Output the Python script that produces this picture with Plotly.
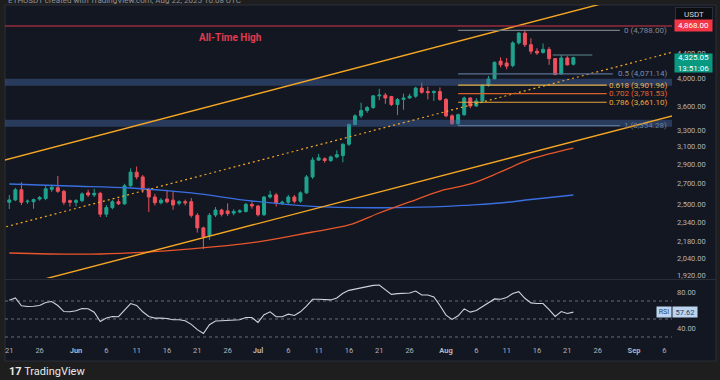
import numpy as np
import pandas as pd
import plotly.graph_objects as go

# ---------------- data ----------------
candle_dates = pd.date_range("2025-05-21", "2025-08-22", freq="D")
opens = [2520, 2542, 2640, 2525, 2525, 2550, 2555, 2645, 2660, 2625,
         2535, 2520, 2535, 2610, 2590, 2605, 2410, 2470, 2525, 2505,
         2680, 2820, 2770, 2640, 2570, 2515, 2550, 2540, 2510, 2525,
         2525, 2400, 2290, 2225, 2403, 2448, 2440, 2420, 2430, 2435,
         2500, 2485, 2405, 2570, 2590, 2510, 2520, 2570, 2530, 2610,
         2770, 2950, 2965, 2945, 2985, 3000, 3130, 3370, 3480, 3550,
         3590, 3750, 3760, 3740, 3630, 3700, 3720, 3745, 3860, 3810,
         3795, 3810, 3700, 3480, 3380, 3495, 3720, 3610, 3680, 3900,
         3995, 4270, 4240, 4200, 4570, 4740, 4540, 4430, 4410, 4460,
         4310, 4070, 4320, 4220]
highs = [2589, 2660, 2715, 2545, 2555, 2580, 2680, 2690, 2780, 2640,
         2545, 2550, 2615, 2640, 2650, 2620, 2495, 2540, 2550, 2700,
         2860, 2880, 2790, 2660, 2600, 2560, 2640, 2620, 2540, 2545,
         2560, 2420, 2300, 2420, 2475, 2460, 2510, 2455, 2455, 2515,
         2525, 2495, 2580, 2630, 2610, 2535, 2590, 2590, 2625, 2790,
         2980, 3020, 2980, 3000, 3060, 3140, 3380, 3500, 3655, 3610,
         3760, 3850, 3790, 3750, 3720, 3780, 3780, 3880, 3940, 3880,
         3830, 3870, 3720, 3500, 3510, 3740, 3730, 3720, 3920, 4040,
         4265, 4330, 4320, 4600, 4760, 4788, 4650, 4480, 4560, 4500,
         4320, 4370, 4350, 4340]
lows = [2457, 2530, 2494, 2505, 2460, 2535, 2540, 2620, 2610, 2495,
        2480, 2480, 2520, 2570, 2570, 2385, 2385, 2455, 2495, 2495,
        2670, 2745, 2610, 2430, 2490, 2500, 2510, 2450, 2490, 2490,
        2380, 2250, 2115, 2190, 2385, 2390, 2395, 2400, 2420, 2425,
        2460, 2390, 2395, 2555, 2480, 2495, 2505, 2510, 2515, 2600,
        2750, 2940, 2920, 2930, 2970, 2926, 3110, 3360, 3450, 3520,
        3570, 3690, 3640, 3610, 3490, 3560, 3710, 3720, 3780, 3700,
        3680, 3680, 3460, 3365, 3354, 3480, 3580, 3600, 3650, 3880,
        3990, 4170, 4140, 4170, 4540, 4500, 4380, 4370, 4390, 4210,
        4050, 4060, 4200, 4200]
closes = [2542, 2640, 2520, 2530, 2545, 2565, 2650, 2665, 2625, 2520,
          2520, 2535, 2600, 2590, 2605, 2410, 2470, 2525, 2505, 2680,
          2820, 2770, 2640, 2570, 2515, 2540, 2525, 2495, 2525, 2515,
          2400, 2290, 2215, 2400, 2448, 2410, 2415, 2435, 2440, 2500,
          2485, 2405, 2570, 2590, 2515, 2520, 2570, 2530, 2610, 2770,
          2950, 2975, 2945, 2985, 3010, 3130, 3370, 3480, 3550, 3590,
          3750, 3760, 3720, 3630, 3700, 3720, 3745, 3860, 3800, 3795,
          3810, 3700, 3480, 3380, 3495, 3720, 3610, 3680, 3900, 3995,
          4250, 4210, 4190, 4570, 4740, 4540, 4430, 4400, 4460, 4310,
          4060, 4320, 4210, 4325.05]

rsi_values = [70.8, 73.4, 64.6, 63.9, 64.2, 65.0, 68.3, 69.4, 65.0, 58.3,
              58.0, 59.1, 61.6, 61.3, 57.6, 47.3, 51.0, 52.8, 52.5, 60.2,
              67.2, 65.0, 58.0, 52.8, 51.0, 51.0, 50.6, 49.2, 49.2, 48.1,
              44.0, 38.2, 33.8, 43.7, 47.7, 48.1, 48.4, 48.8, 49.2, 51.7,
              51.7, 46.2, 54.7, 58.0, 52.5, 52.5, 55.4, 53.9, 58.0, 64.2,
              71.9, 71.9, 71.6, 71.2, 73.4, 78.5, 81.8, 83.3, 84.4, 85.5,
              87.3, 87.7, 82.9, 77.4, 78.2, 78.5, 78.9, 81.1, 76.7, 76.7,
              74.5, 65.0, 54.3, 49.5, 53.6, 61.3, 57.6, 59.4, 63.5, 68.3,
              72.3, 71.9, 73.8, 78.2, 80.4, 73.0, 67.9, 67.2, 67.2, 60.5,
              52.8, 58.3, 56.1, 57.62]

slow_ma_dates = ["2025-05-21", "2025-05-31", "2025-06-10", "2025-06-20", "2025-06-30",
                 "2025-07-10", "2025-07-20", "2025-07-30", "2025-08-05", "2025-08-10",
                 "2025-08-15", "2025-08-22"]
slow_ma_values = [2698, 2678, 2658, 2609, 2532, 2481, 2469, 2476, 2494, 2513, 2546, 2589]

fast_ma_dates = ["2025-05-21", "2025-06-05", "2025-06-20", "2025-07-01", "2025-07-10",
                 "2025-07-16", "2025-07-21", "2025-07-26", "2025-07-31", "2025-08-05",
                 "2025-08-10", "2025-08-15", "2025-08-22"]
fast_ma_values = [2085, 2077, 2117, 2173, 2255, 2315, 2421, 2523, 2628, 2698, 2822, 2962, 3086]

ath_price = 4868.00
last_price = 4325.05
countdown = "13:51:06"
rsi_last = 57.62

fib_ratios = ["0", "0.5", "0.618", "0.702", "0.786", "1"]
fib_prices = [4788.00, 4071.14, 3901.96, 3781.53, 3661.10, 3354.28]

zone_lows = [3893, 3340]
zone_highs = [3996, 3429]

channel_anchor_dates = ["2025-05-21", "2025-08-22"]
upper_channel = [2963, 5145]
middle_channel = [2307, 4006]
lower_channel = [1828, 3161]

marker_line_price = 4368

price_ticks = [1920, 2040, 2180, 2340, 2500, 2700, 2900, 3100, 3300, 3600, 4000, 4400]
rsi_ticks = [40, 80]
rsi_levels = [70, 50, 30]
date_ticks = ["2025-05-21", "2025-05-26", "2025-06-01", "2025-06-06", "2025-06-11",
              "2025-06-16", "2025-06-21", "2025-06-26", "2025-07-01", "2025-07-06",
              "2025-07-11", "2025-07-16", "2025-07-21", "2025-07-26", "2025-08-01",
              "2025-08-06", "2025-08-11", "2025-08-16", "2025-08-21", "2025-08-26",
              "2025-09-01", "2025-09-06"]
date_labels = ["21", "26", "<b>Jun</b>", "6", "11", "16", "21", "26", "<b>Jul</b>", "6",
               "11", "16", "21", "26", "<b>Aug</b>", "6", "11", "16", "21", "26",
               "<b>Sep</b>", "6"]

# ---------------- styles ----------------
BG = "#131722"
OUTER = "#1e1e1e"
UP = "#1fa38e"
DOWN = "#f0515c"
ORANGE = "#f5a623"
FONT = "Roboto"
AXIS_TXT = "#b2b5be"
X_START = pd.Timestamp("2025-05-20 07:00")
X_END = pd.Timestamp("2025-09-07 06:15")

fib_line_colors = ["#787b86", "#5a7296", "#e6ad45", "#d9622b", "#eaa23a", "#5a7296"]
fib_text_colors = ["#858893", "#7d8cab", "#f0b24a", "#e8662f", "#f0a638", "#6f7f9e"]
fib_end = ["2025-08-29 16:00", "2025-08-28 12:00", "2025-08-27 12:00",
           "2025-08-27 12:00", "2025-08-27 12:00", "2025-08-29 16:00"]
fib_start = "2025-08-03"

fig = go.Figure()

# support / resistance zones
for lo, hi in zip(zone_lows, zone_highs):
    fig.add_trace(go.Scatter(
        x=[X_START, X_END, X_END, X_START], y=[lo, lo, hi, hi],
        fill="toself", fillcolor="rgba(66,105,165,0.45)", line=dict(width=0),
        mode="lines", hoverinfo="skip", xaxis="x", yaxis="y"))

# moving averages
fig.add_trace(go.Scatter(x=pd.to_datetime(slow_ma_dates), y=slow_ma_values, mode="lines",
                         line=dict(color="#3a6fe0", width=1.3, shape="spline"),
                         hoverinfo="skip", xaxis="x", yaxis="y"))
fig.add_trace(go.Scatter(x=pd.to_datetime(fast_ma_dates), y=fast_ma_values, mode="lines",
                         line=dict(color="#e8562a", width=1.3, shape="spline"),
                         hoverinfo="skip", xaxis="x", yaxis="y"))

# channel (straight in log space), extended to the pane edges
a_t = pd.to_datetime(channel_anchor_dates)
span = (a_t[1] - a_t[0]) / pd.Timedelta(days=1)
ext = [X_START - pd.Timedelta(days=3), X_END + pd.Timedelta(days=3)]
for vals, dash, width in [(upper_channel, "solid", 1.4), (lower_channel, "solid", 1.4),
                          (middle_channel, "2px,3px", 1.2)]:
    lv = np.log(vals)
    slope = (lv[1] - lv[0]) / span
    ts = np.array([(e - a_t[0]) / pd.Timedelta(days=1) for e in ext])
    ys = np.exp(lv[0] + slope * ts)
    fig.add_trace(go.Scatter(x=ext, y=ys, mode="lines",
                             line=dict(color=ORANGE, width=width, dash=dash),
                             hoverinfo="skip", xaxis="x", yaxis="y"))

# ATH line
fig.add_trace(go.Scatter(x=[X_START, X_END], y=[ath_price, ath_price], mode="lines",
                         line=dict(color="#d9364a", width=1), hoverinfo="skip",
                         xaxis="x", yaxis="y"))

# fib levels
for p, c, e in zip(fib_prices, fib_line_colors, fib_end):
    fig.add_trace(go.Scatter(x=[pd.Timestamp(fib_start), pd.Timestamp(e)], y=[p, p],
                             mode="lines", line=dict(color=c, width=1.2),
                             hoverinfo="skip", xaxis="x", yaxis="y"))

# short price marker line
fig.add_trace(go.Scatter(x=[pd.Timestamp("2025-08-18 14:00"), pd.Timestamp("2025-08-25 03:00")],
                         y=[marker_line_price, marker_line_price], mode="lines",
                         line=dict(color="#5f8a8b", width=1), hoverinfo="skip",
                         xaxis="x", yaxis="y"))

# candles
fig.add_trace(go.Candlestick(
    x=candle_dates, open=opens, high=highs, low=lows, close=closes,
    increasing=dict(line=dict(color=UP, width=1), fillcolor=UP),
    decreasing=dict(line=dict(color=DOWN, width=1), fillcolor=DOWN),
    whiskerwidth=0, hoverinfo="skip", xaxis="x", yaxis="y"))

# RSI pane
for lvl in rsi_levels:
    fig.add_trace(go.Scatter(x=[X_START, X_END], y=[lvl, lvl], mode="lines",
                             line=dict(color="#6a6d78", width=1, dash="3px,3px"),
                             hoverinfo="skip", xaxis="x", yaxis="y2"))
fig.add_trace(go.Scatter(x=candle_dates, y=rsi_values, mode="lines",
                         line=dict(color="#cfd2dc", width=1.1), hoverinfo="skip",
                         xaxis="x", yaxis="y2"))

# ---------------- layout ----------------
def px_y(Y):  # pixel row -> paper y
    return (340 - Y) / 335

def px_x(X):  # pixel column -> paper x
    return (X - 5) / 667

annotations = []
for r, p, c in zip(fib_ratios, fib_prices, fib_text_colors):
    annotations.append(dict(x=px_x(669), xref="paper", y=np.log10(p), yref="y",
                            xanchor="right", yanchor="middle", showarrow=False,
                            text=f"{r} ({p:,.2f})", font=dict(family=FONT, size=8, color=c)))

annotations += [
    dict(x=px_x(231), y=px_y(37), xref="paper", yref="paper", showarrow=False,
         xanchor="center", yanchor="middle",
         text="<b>All-Time High</b>", font=dict(family=FONT, size=10, color="#e23a4e")),
    dict(x=px_x(693.5), xref="paper", y=px_y(14), yref="paper", showarrow=False,
         xanchor="center", yanchor="middle",
         text="USDT", bgcolor="#0d0e12", bordercolor="#2a2e39", borderwidth=1,
         width=34, height=10, borderpad=1, font=dict(family=FONT, size=8, color="#d1d4dc")),
    dict(x=px_x(693.5), xref="paper", y=np.log10(ath_price), yref="y", showarrow=False,
         xanchor="center", yanchor="middle",
         text=f"{ath_price:,.2f}", bgcolor="#f23645", width=35, height=9, borderpad=1,
         font=dict(family=FONT, size=8, color="white")),
    dict(x=px_x(693.5), xref="paper", y=np.log10(last_price), yref="y", xanchor="center",
         yanchor="top", yshift=5, showarrow=False, text=f"{last_price:,.2f}<br>{countdown}",
         bgcolor="#089981", width=35, height=16, borderpad=1,
         font=dict(family=FONT, size=8, color="white")),
    dict(x=px_x(664), xref="paper", y=rsi_last, yref="y2", showarrow=False,
         xanchor="center", yanchor="middle",
         text="RSI", bgcolor="#bcd4f0", width=13, height=9, borderpad=0.5,
         font=dict(family=FONT, size=7, color="#25456f")),
    dict(x=px_x(685.5), xref="paper", y=rsi_last, yref="y2", showarrow=False,
         xanchor="center", yanchor="middle",
         text=f"{rsi_last:.2f}", bgcolor="#bcd4f0", width=23, height=9, borderpad=0.5,
         font=dict(family=FONT, size=7.5, color="#25456f")),
    dict(x=px_x(6), xref="paper", y=px_y(0.5), yref="paper", xanchor="left",
         yanchor="middle", showarrow=False,
         text="ETHUSDT created with TradingView.com, Aug 22, 2025 10:08 UTC",
         font=dict(family=FONT, size=8, color="#8f929b")),
    dict(x=px_x(7), xref="paper", y=px_y(371), yref="paper", xanchor="left",
         yanchor="middle", showarrow=False, text="<b>17</b> TradingView",
         font=dict(family=FONT, size=11, color="#e8e8e8")),
]

shapes = [
    dict(type="rect", xref="paper", yref="paper", x0=px_x(5), x1=px_x(716),
         y0=px_y(361), y1=px_y(5), fillcolor=BG, line=dict(color="#2a2e39", width=1),
         layer="below"),
    dict(type="line", xref="paper", yref="paper", x0=px_x(5), x1=px_x(716),
         y0=px_y(279.5), y1=px_y(279.5), line=dict(color="#2a2e39", width=1)),
]

fig.update_layout(
    width=720, height=380,
    margin=dict(l=5, r=48, t=5, b=40),
    paper_bgcolor=OUTER, plot_bgcolor=BG,
    showlegend=False,
    font=dict(family=FONT, size=8, color=AXIS_TXT),
    xaxis=dict(type="date", range=[X_START, X_END], anchor="y2",
               tickvals=pd.to_datetime(date_ticks), ticktext=date_labels,
               showgrid=False, zeroline=False, showline=False, ticks="",
               ticklabelstandoff=4, tickfont=dict(size=7.5, color=AXIS_TXT),
               rangeslider=dict(visible=False)),
    yaxis=dict(type="log", domain=[px_y(278), 1.0],
               range=[np.log10(1899), np.log10(5265)], side="right",
               tickvals=price_ticks, ticktext=[f"{v:,.2f}" for v in price_ticks],
               showgrid=False, zeroline=False, showline=False, ticks="",
               ticklabelstandoff=4, tickfont=dict(size=7.5, color=AXIS_TXT)),
    yaxis2=dict(domain=[0, px_y(281)], range=[26.67, 92.2], side="right",
                tickvals=rsi_ticks, ticktext=[f"{v:.2f}" for v in rsi_ticks],
                showgrid=False, zeroline=False, showline=False, ticks="",
                ticklabelstandoff=4, tickfont=dict(size=7.5, color=AXIS_TXT)),
    annotations=annotations,
    shapes=shapes,
)

fig.write_html(
    "out.html",
    config={"displayModeBar": False},
    post_script="document.body.style.margin='0';document.body.style.overflow='hidden';"
                "document.body.style.background='#1e1e1e';",
)
